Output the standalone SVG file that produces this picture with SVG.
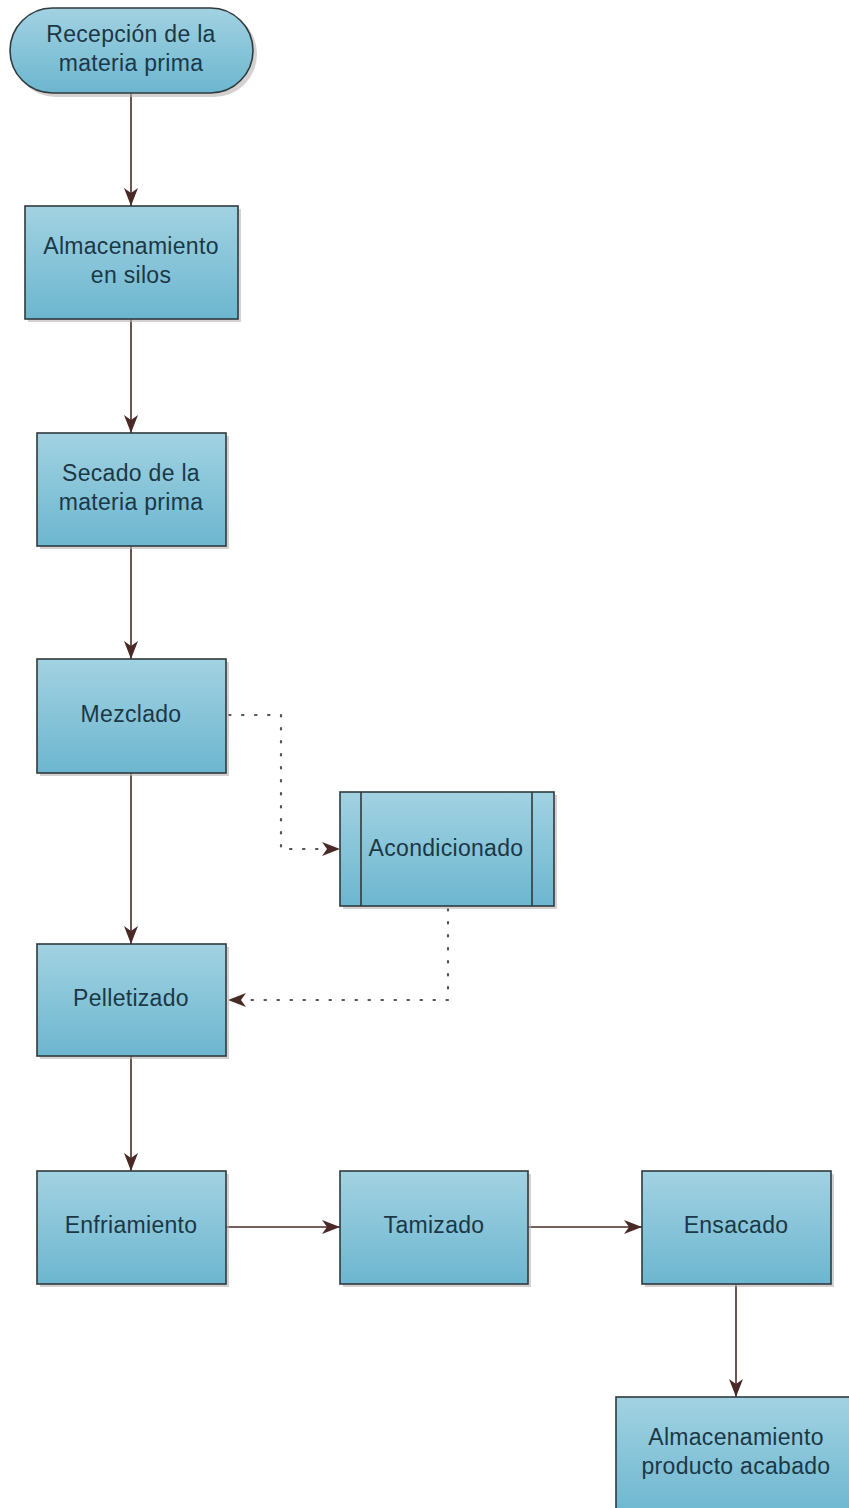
<svg xmlns="http://www.w3.org/2000/svg" width="849" height="1508" viewBox="0 0 849 1508">
<defs>
<linearGradient id="g" x1="0" y1="0" x2="0" y2="1">
<stop offset="0" stop-color="#a2d2e2"/>
<stop offset="1" stop-color="#6cb6cf"/>
</linearGradient>
<marker id="ahb" viewBox="0 0 18 14" refX="18" refY="7" markerWidth="18" markerHeight="14" markerUnits="userSpaceOnUse" orient="auto">
<path d="M0,0 L18,7 L0,14 L5,7 Z" fill="#4a2a26"/>
</marker>
</defs>
<style>
.n{fill:url(#g);stroke:#2f3a3e;stroke-width:1.6}
.sh{fill:#b8b2b0;opacity:0.6}
.t{font-family:"Liberation Sans",Arial,sans-serif;font-size:23px;letter-spacing:0.3px;fill:#1b3846;text-anchor:middle}
.c{fill:none;stroke:#4a2a26;stroke-width:1.6}
.d{fill:none;stroke:#555;stroke-width:2.2;stroke-dasharray:1.5 11.5;stroke-linecap:round}
</style>
<rect width="849" height="1508" fill="#ffffff"/>
<g id="connectors">
<line class="c" x1="131" y1="93" x2="131" y2="206" marker-end="url(#ahb)"/>
<line class="c" x1="131" y1="319" x2="131" y2="433" marker-end="url(#ahb)"/>
<line class="c" x1="131" y1="546" x2="131" y2="659" marker-end="url(#ahb)"/>
<line class="c" x1="131" y1="773" x2="131" y2="944" marker-end="url(#ahb)"/>
<line class="c" x1="131" y1="1056" x2="131" y2="1171" marker-end="url(#ahb)"/>
<line class="c" x1="226" y1="1227" x2="340" y2="1227" marker-end="url(#ahb)"/>
<line class="c" x1="528" y1="1227" x2="642" y2="1227" marker-end="url(#ahb)"/>
<line class="c" x1="736" y1="1284" x2="736" y2="1397" marker-end="url(#ahb)"/>
<path class="d" d="M229,715 L281,715 L281,849 L322,849"/>
<path d="M322,842 L340,849 L322,856 L327,849 Z" fill="#4a2a26"/>
<path class="d" d="M448,909 L448,1000 L246,1000"/>
<path d="M246,993 L228,1000 L246,1007 L241,1000 Z" fill="#4a2a26"/>
</g>
<g id="n1">
<rect class="sh" x="13" y="11" width="244" height="86" rx="43"/>
<rect class="n" x="10" y="8" width="243" height="85" rx="42.5"/>
<text class="t" x="131" y="42">Recepción de la</text>
<text class="t" x="131" y="71">materia prima</text>
</g>
<g id="n2">
<rect class="sh" x="28" y="209" width="213" height="113"/>
<rect class="n" x="25" y="206" width="213" height="113"/>
<text class="t" x="131" y="254">Almacenamiento</text>
<text class="t" x="131" y="283">en silos</text>
</g>
<g id="n3">
<rect class="sh" x="40" y="436" width="189" height="113"/>
<rect class="n" x="37" y="433" width="189" height="113"/>
<text class="t" x="131" y="481">Secado de la</text>
<text class="t" x="131" y="510">materia prima</text>
</g>
<g id="n4">
<rect class="sh" x="40" y="662" width="189" height="114"/>
<rect class="n" x="37" y="659" width="189" height="114"/>
<text class="t" x="131" y="722">Mezclado</text>
</g>
<g id="n5">
<rect class="sh" x="343" y="795" width="214" height="114"/>
<rect class="n" x="340" y="792" width="214" height="114"/>
<line x1="361" y1="792" x2="361" y2="906" stroke="#2f3a3e" stroke-width="1.6"/>
<line x1="532" y1="792" x2="532" y2="906" stroke="#2f3a3e" stroke-width="1.6"/>
<text class="t" x="446" y="856">Acondicionado</text>
</g>
<g id="n6">
<rect class="sh" x="40" y="947" width="189" height="112"/>
<rect class="n" x="37" y="944" width="189" height="112"/>
<text class="t" x="131" y="1006">Pelletizado</text>
</g>
<g id="n7">
<rect class="sh" x="40" y="1174" width="189" height="113"/>
<rect class="n" x="37" y="1171" width="189" height="113"/>
<text class="t" x="131" y="1233">Enfriamiento</text>
</g>
<g id="n8">
<rect class="sh" x="343" y="1174" width="188" height="113"/>
<rect class="n" x="340" y="1171" width="188" height="113"/>
<text class="t" x="434" y="1233">Tamizado</text>
</g>
<g id="n9">
<rect class="sh" x="645" y="1174" width="189" height="113"/>
<rect class="n" x="642" y="1171" width="189" height="113"/>
<text class="t" x="736" y="1233">Ensacado</text>
</g>
<g id="n10">
<rect class="n" x="616" y="1397" width="240" height="120"/>
<text class="t" x="736" y="1445">Almacenamiento</text>
<text class="t" x="736" y="1474">producto acabado</text>
</g>
</svg>
